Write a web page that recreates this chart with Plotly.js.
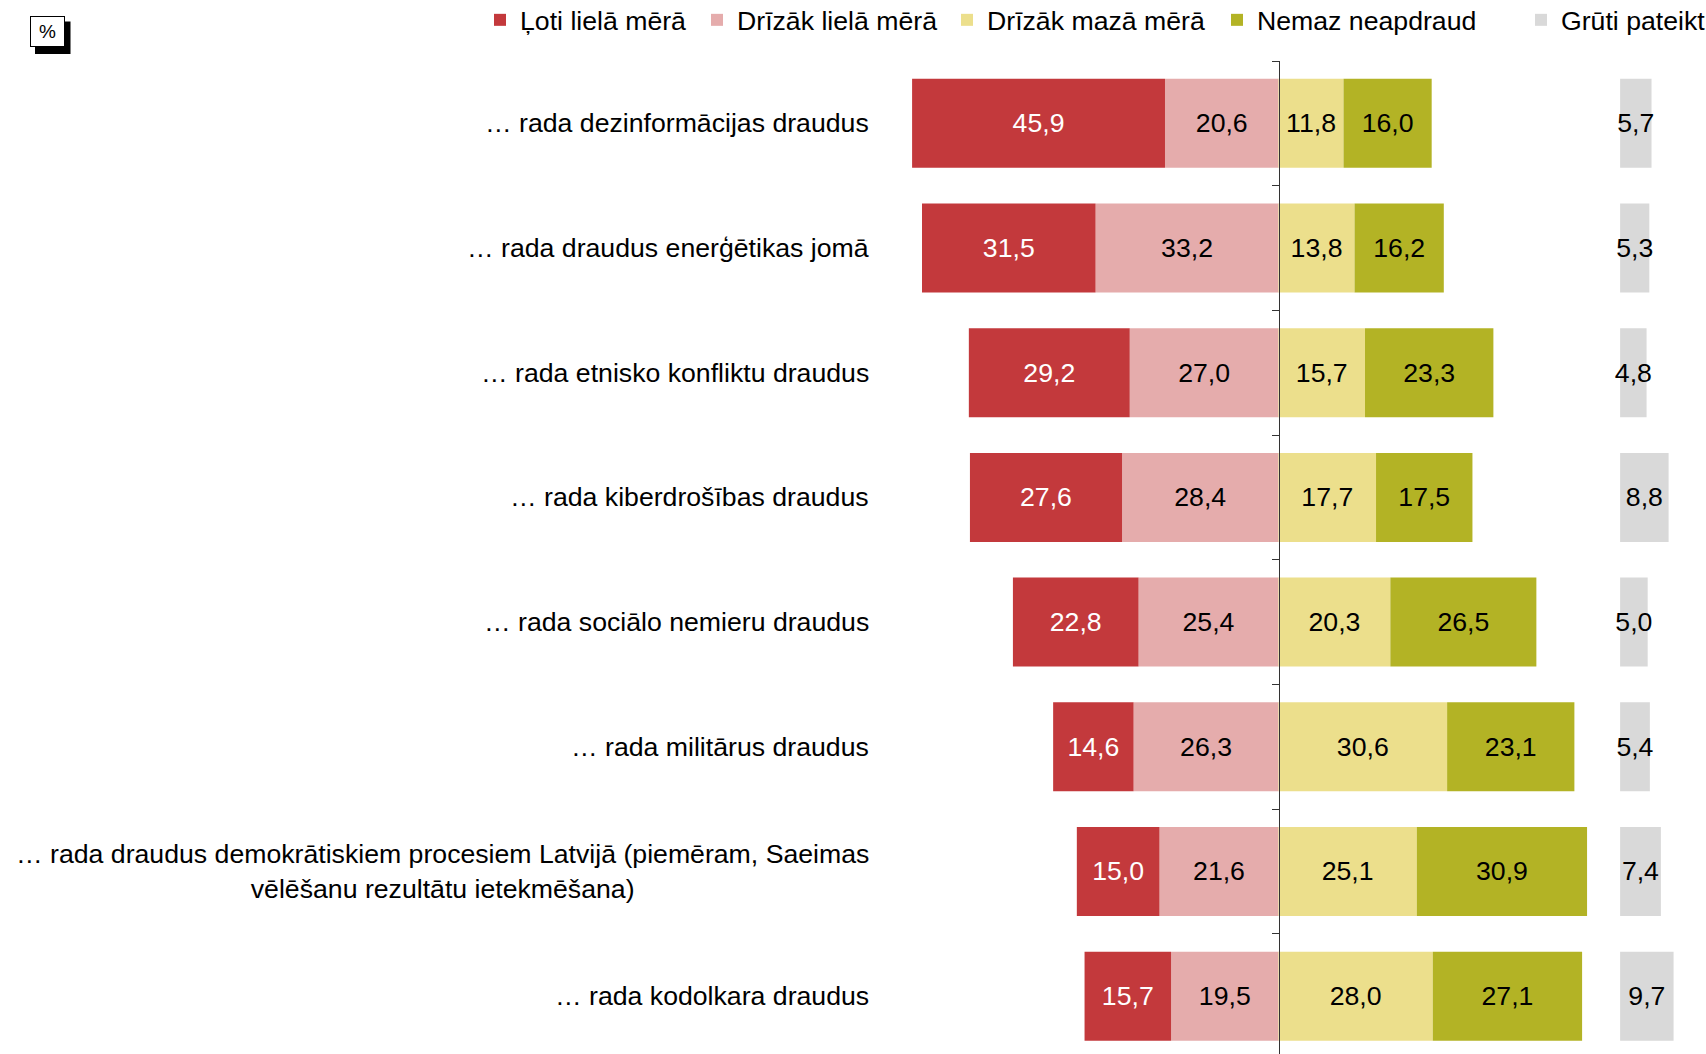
<!DOCTYPE html>
<html>
<head>
<meta charset="utf-8">
<script src="https://cdn.plot.ly/plotly-3.0.1.min.js"></script>
<style>
  html, body { margin: 0; padding: 0; background: #ffffff; }
  #chart { width: 1706px; height: 1054px; }
</style>
</head>
<body>
<div id="chart"></div>
<script>
// ---------- DATA ----------
const categories = [
  "… rada dezinformācijas draudus",
  "… rada draudus enerģētikas jomā",
  "… rada etnisko konfliktu draudus",
  "… rada kiberdrošības draudus",
  "… rada sociālo nemieru draudus",
  "… rada militārus draudus",
  "… rada draudus demokrātiskiem procesiem Latvijā (piemēram, Saeimas<br>vēlēšanu rezultātu ietekmēšana)",
  "… rada kodolkara draudus"
];
const seriesNames = ["Ļoti lielā mērā", "Drīzāk lielā mērā", "Drīzāk mazā mērā", "Nemaz neapdraud", "Grūti pateikt"];
const lotiLiela   = [45.9, 31.5, 29.2, 27.6, 22.8, 14.6, 15.0, 15.7];
const drizakLiela = [20.6, 33.2, 27.0, 28.4, 25.4, 26.3, 21.6, 19.5];
const drizakMaza  = [11.8, 13.8, 15.7, 17.7, 20.3, 30.6, 25.1, 28.0];
const nemaz       = [16.0, 16.2, 23.3, 17.5, 26.5, 23.1, 30.9, 27.1];
const grutiPateikt= [5.7, 5.3, 4.8, 8.8, 5.0, 5.4, 7.4, 9.7];

// ---------- STYLE / GEOMETRY ----------
const colors = ["#c3393c", "#e5acac", "#ecdf8c", "#b3b325", "#d9d9d9"];
const FONT = "Liberation Sans, Arial, sans-serif";
const FS = 26.67;
const W = 1706, H = 1054;
const ML = 880, MR = 6, MT = 60.6, MB = 0;
const ZERO_PX = 1278.5, PX_PER_UNIT = 5.51;
const GREY_BASE = 62;
const plotW = W - ML - MR, plotH = H - MT - MB;
const x0 = (ML - ZERO_PX) / PX_PER_UNIT;
const x1 = x0 + plotW / PX_PER_UNIT;
const yRange = [categories.length - 0.5 - 4.5 / 124.7, -0.5];

const fmt = v => v.toFixed(1).replace('.', ',');
const px2paperX = p => (p - ML) / plotW;
const px2paperY = p => 1 - (p - MT) / plotH;

function barTrace(name, vals, sign, color, textColor, legendId, extra) {
  return Object.assign({
    type: 'bar', orientation: 'h', name: name,
    y: categories, x: vals.map(v => sign * v),
    text: vals.map(fmt), texttemplate: '%{text}',
    textposition: 'inside', insidetextanchor: 'middle', textangle: 0,
    constraintext: 'none', cliponaxis: false,
    textfont: { family: FONT, size: FS, color: textColor },
    marker: { color: color, line: { width: 0 } },
    hoverinfo: 'skip', legend: legendId
  }, extra || {});
}

const data = [
  barTrace(seriesNames[1], drizakLiela, -1, colors[1], '#000000', 'legend2'),
  barTrace(seriesNames[0], lotiLiela, -1, colors[0], '#ffffff', 'legend'),
  barTrace(seriesNames[2], drizakMaza, 1, colors[2], '#000000', 'legend3'),
  barTrace(seriesNames[3], nemaz, 1, colors[3], '#000000', 'legend4'),
  barTrace(seriesNames[4], grutiPateikt, 1, colors[4], '#000000', 'legend5', { xaxis: 'x2', base: GREY_BASE })
];

// legend item positions (left edge of each legend box, px)
const legendBoxX = [480, 697, 947, 1217, 1521];
function legendAt(i) {
  return {
    orientation: 'h', xref: 'container', yref: 'container',
    x: legendBoxX[i] / W, y: 1 - 20 / H,
    xanchor: 'left', yanchor: 'middle',
    font: { family: FONT, size: FS, color: '#000000' },
    bgcolor: 'rgba(0,0,0,0)', borderwidth: 0, itemwidth: 30,
    itemclick: false, itemdoubleclick: false
  };
}

const annotations = categories.map(c => ({
  xref: 'paper', yref: 'y', x: px2paperX(871), y: c,
  xanchor: 'right', yanchor: 'middle', align: 'center',
  text: c, showarrow: false,
  font: { family: FONT, size: FS, color: '#000000' }
}));
annotations.push({
  xref: 'paper', yref: 'paper', x: px2paperX(30), y: px2paperY(15.7),
  xanchor: 'left', yanchor: 'top', text: '%', showarrow: false,
  width: 33, height: 29, borderpad: 0, borderwidth: 1, bordercolor: '#000000',
  bgcolor: '#ffffff', font: { family: FONT, size: 19, color: '#000000' }
});

const layout = {
  width: W, height: H,
  paper_bgcolor: '#ffffff', plot_bgcolor: 'rgba(0,0,0,0)',
  margin: { l: ML, r: MR, t: MT, b: MB, pad: 0 },
  barmode: 'relative', bargap: 0.286,
  showlegend: true,
  legend: legendAt(0), legend2: legendAt(1), legend3: legendAt(2), legend4: legendAt(3), legend5: legendAt(4),
  xaxis: { range: [x0, x1], visible: false, fixedrange: true, automargin: false },
  xaxis2: { range: [x0, x1], overlaying: 'x', visible: false, fixedrange: true, automargin: false },
  yaxis: {
    type: 'category', range: yRange, anchor: 'free', position: -x0 / (x1 - x0),
    showticklabels: false, showgrid: false, zeroline: false,
    showline: true, linecolor: '#333333', linewidth: 1,
    ticks: 'outside', tickson: 'boundaries', ticklen: 7, tickcolor: '#333333', tickwidth: 1,
    fixedrange: true, automargin: false
  },
  shapes: [{
    type: 'rect', xref: 'paper', yref: 'paper', layer: 'below',
    x0: px2paperX(35), x1: px2paperX(70.5), y0: px2paperY(21), y1: px2paperY(53.5),
    fillcolor: '#000000', line: { width: 0 }
  }],
  annotations: annotations,
  font: { family: FONT, size: FS, color: '#000000' }
};

Plotly.newPlot('chart', data, layout, { displayModeBar: false, staticPlot: true });
</script>
</body>
</html>
